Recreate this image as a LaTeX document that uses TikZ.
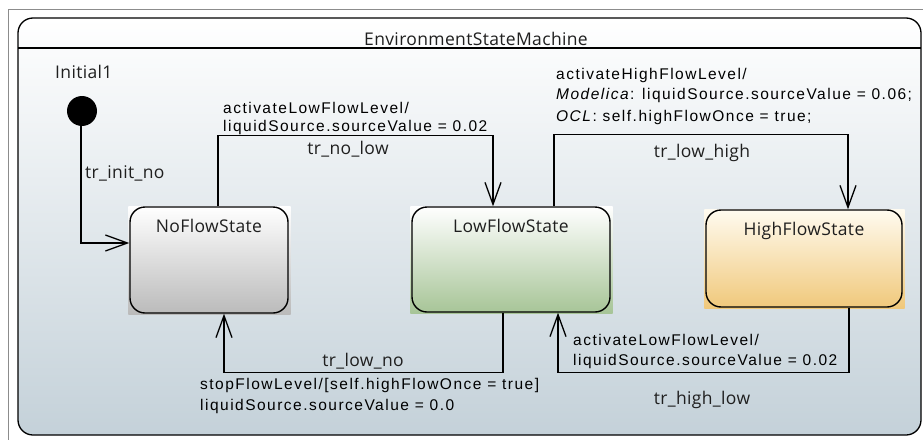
\documentclass[tikz,border=0pt]{standalone}
\usepackage{fontspec}
\usetikzlibrary{arrows.meta,backgrounds}
\newfontfamily\labfont[LetterSpace=9.6]{Liberation Sans}
\newfontfamily\segfont[LetterSpace=2]{Open Sans}
\definecolor{framebot}{RGB}{196,209,217}
\definecolor{nobot}{RGB}{186,186,186}
\definecolor{lowbot}{RGB}{166,196,150}
\definecolor{highbot}{RGB}{240,200,122}
\definecolor{hightop}{RGB}{255,251,240}
\begin{document}
\begin{tikzpicture}[x=1pt,y=-1pt,
  segtext/.style={font=\segfont\fontsize{17.5}{20}\selectfont, inner sep=0pt, text=black!88},
  labtext/.style={font=\labfont\fontsize{15.5}{19}\selectfont, inner sep=0pt, anchor=base west},
  statebox/.style={draw=black, line width=1.4pt, rounded corners=15pt, inner sep=0pt},
  conn/.style={draw=black, line width=1.3pt, -{Straight Barb[length=22pt,width=16pt,line width=1.3pt]}}
]
\useasboundingbox (0,0) rectangle (923,439);
\begin{scope}[on background layer]
\fill[white] (0,0) rectangle (923,439);
\shade[top color=white, bottom color=framebot, rounded corners=15pt] (18,18) rectangle (921,435);
\end{scope}
\draw[black!45, line width=1pt] (8,9) rectangle (940,450);
% state machine frame
\draw[line width=1.3pt, rounded corners=15pt] (18,18) rectangle (921,435);
\draw[line width=1.3pt] (18,48) -- (921,48);
\node[segtext, anchor=base] (title) at (476,45) {EnvironmentStateMachine};

% states
\node[statebox, minimum width=158pt, minimum height=106pt] (no) at (209,260) {};
\node[statebox, minimum width=198pt, minimum height=105pt] (lo) at (511,259.5) {};
\node[statebox, minimum width=196pt, minimum height=97pt] (hi) at (804,258.5) {};
\begin{scope}[on background layer]
\shade[top color=white, bottom color=nobot] ([xshift=-1pt,yshift=-1pt]no.south west) rectangle ([xshift=2pt]no.north east);
\shade[top color=white, bottom color=lowbot] ([xshift=-1pt,yshift=-1pt]lo.south west) rectangle ([xshift=2pt]lo.north east);
\shade[top color=hightop, bottom color=highbot] ([xshift=-1pt,yshift=-1pt]hi.south west) rectangle ([xshift=2pt]hi.north east);
\end{scope}
\node[segtext, anchor=base] (noT) at ([yshift=-26pt]no.north) {NoFlowState};
\node[segtext, anchor=base] (loT) at ([yshift=-26pt]lo.north) {LowFlowState};
\node[segtext, anchor=base] (hiT) at ([yshift=-26pt]hi.north) {HighFlowState};

% initial
\node[circle, fill=black, minimum size=30pt, inner sep=0pt] (init) at (82,111) {};
\node[segtext, anchor=base west] (initT) at (55,78) {Initial1};

% transitions
\draw[conn] ([xshift=-1pt]init.south) |- ([yshift=17pt]no.west);
\node[segtext, anchor=base west] (trInit) at (85,178) {tr\_init\_no};

\draw[conn] ([xshift=9pt]no.north) -- ++(0,-71) -| ([xshift=-18pt]lo.north);
\node[segtext, anchor=base] (trNoLow) at (348,154) {tr\_no\_low};
\node[labtext] (nlA) at (223,113) {activateLowFlowLevel/};
\node[labtext] (nlB) at (223,131) {liquidSource.sourceValue = 0.02};

\draw[conn] ([xshift=43pt]lo.north) -- ++(0,-72) -| ([xshift=44pt]hi.north);
\node[segtext, anchor=base] (trLowHigh) at (702,157) {tr\_low\_high};
\node[labtext] (lhA) at (556,79) {activateHighFlowLevel/};
\node[labtext] (lhB) at (556,99) {\textit{Modelica}: liquidSource.sourceValue = 0.06;};
\node[labtext] (lhC) at (556,121) {\textit{OCL}: self.highFlowOnce = true;};

\draw[conn] ([xshift=-8pt]lo.south) -- ++(0,60) -| ([xshift=15pt]no.south);
\node[segtext, anchor=base] (trLowNo) at (363,366) {tr\_low\_no};
\node[labtext] (lnA) at (200,389) {stopFlowLevel/[self.highFlowOnce = true]};
\node[labtext] (lnB) at (200,410) {liquidSource.sourceValue = 0.0};

\draw[conn] ([xshift=45pt]hi.south) -- ++(0,65) -| ([xshift=47pt]lo.south);
\node[segtext, anchor=base] (trHighLow) at (702,404) {tr\_high\_low};
\node[labtext] (hlA) at (573,345) {activateLowFlowLevel/};
\node[labtext] (hlB) at (573,365) {liquidSource.sourceValue = 0.02};
\end{tikzpicture}
\end{document}
